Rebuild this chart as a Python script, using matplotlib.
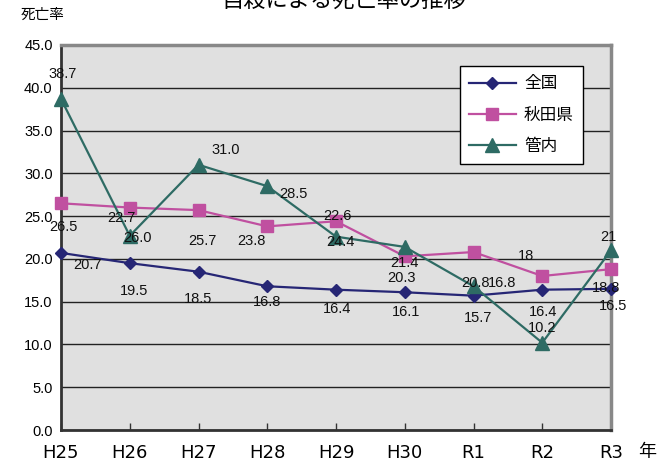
import numpy as np
import matplotlib
matplotlib.use('Agg')
import matplotlib.pyplot as plt

plt.rcParams['font.family'] = ['Liberation Sans', 'Noto Sans CJK JP', 'DejaVu Sans']

# Data
years = ['H25', 'H26', 'H27', 'H28', 'H29', 'H30', 'R1', 'R2', 'R3']
zenkoku = [20.7, 19.5, 18.5, 16.8, 16.4, 16.1, 15.7, 16.4, 16.5]
akita = [26.5, 26.0, 25.7, 23.8, 24.4, 20.3, 20.8, 18.0, 18.8]
kannai = [38.7, 22.7, 31.0, 28.5, 22.6, 21.4, 16.8, 10.2, 21.0]
zenkoku_lbl = ['20.7', '19.5', '18.5', '16.8', '16.4', '16.1', '15.7', '16.4', '16.5']
akita_lbl = ['26.5', '26.0', '25.7', '23.8', '24.4', '20.3', '20.8', '18', '18.8']
kannai_lbl = ['38.7', '22.7', '31.0', '28.5', '22.6', '21.4', '16.8', '10.2', '21']

# label offsets in pixels (dx right, dy down) to mimic the original placement
zenkoku_off = [(26, 12), (4, 28), (0, 27), (0, 16), (1, 19), (1, 20), (5, 22), (1, 22), (2, 17)]
akita_off = [(2, 24), (8, 30), (4, 31), (-16, 15), (4, 21), (-3, 22), (2, 31), (-16, -20), (-5, 19)]
kannai_off = [(2, -25), (-8, -18), (27, -15), (26, 8), (1, -21), (0, 16), (29, -3), (0, -15), (-3, -13)]

fig = plt.figure(figsize=(6.72, 4.68), dpi=100)
ax = fig.add_axes([61 / 672, 1 - 430 / 468, 550 / 672, 385 / 468])
ax.set_facecolor('#e0e0e0')

x = np.arange(len(years))
series = [
    (zenkoku, zenkoku_lbl, zenkoku_off, '全国', '#262675', 'D', 6.5),
    (akita, akita_lbl, akita_off, '秋田県', '#c050a0', 's', 9),
    (kannai, kannai_lbl, kannai_off, '管内', '#2e6b64', '^', 10.5),
]
for vals, lbls, offs, name, col, mk, ms in series:
    ax.plot(x, vals, color=col, lw=1.6, marker=mk, ms=ms, mec=col, mfc=col,
            label=name, zorder=3, clip_on=False)
    for i, (v, t) in enumerate(zip(vals, lbls)):
        ax.annotate(t, (x[i], v), xytext=(offs[i][0], -offs[i][1]),
                    textcoords='offset pixels', ha='center', va='center',
                    fontsize=10.5, color='#111111', zorder=4)

ax.set_xlim(0, len(years) - 1)
ax.set_ylim(0, 45)
ax.set_yticks(np.arange(0, 46, 5))
ax.set_yticklabels([f'{v:.1f}' for v in np.arange(0, 46, 5)], fontsize=10.5)
ax.set_xticks(x)
ax.set_xticklabels(years, fontsize=13, family='DejaVu Sans')
ax.tick_params(axis='y', length=0, pad=6)
ax.tick_params(axis='x', direction='in', length=5, width=1, color='#333333', pad=10)
ax.grid(axis='y', color='#222222', lw=1)
ax.set_axisbelow(True)

for s in ['left', 'bottom']:
    ax.spines[s].set_color('#333333')
    ax.spines[s].set_linewidth(2)
for s in ['top', 'right']:
    ax.spines[s].set_color('#888888')
    ax.spines[s].set_linewidth(2.5)

leg = ax.legend(loc='upper left', bbox_to_anchor=(0.725, 0.945), frameon=True,
                fancybox=False, edgecolor='black', framealpha=1,
                prop={'family': 'Noto Sans CJK JP', 'size': 12},
                handlelength=2.8, handletextpad=0.5, labelspacing=0.85,
                borderpad=0.55, borderaxespad=0)
leg.get_frame().set_linewidth(1)

fig.text(43 / 672, 1 - 15 / 468, '死亡率', ha='center', va='center',
         fontsize=10.5, family='Noto Sans CJK JP')
fig.text(647 / 672, 1 - 452 / 468, '年', ha='center', va='center',
         fontsize=13, family='Noto Sans CJK JP')
fig.text(344 / 672, 1 - 1 / 468, '自殺による死亡率の推移', ha='center', va='center',
         fontsize=16, family='Noto Sans CJK JP')

fig.savefig('out.png', dpi=100)
